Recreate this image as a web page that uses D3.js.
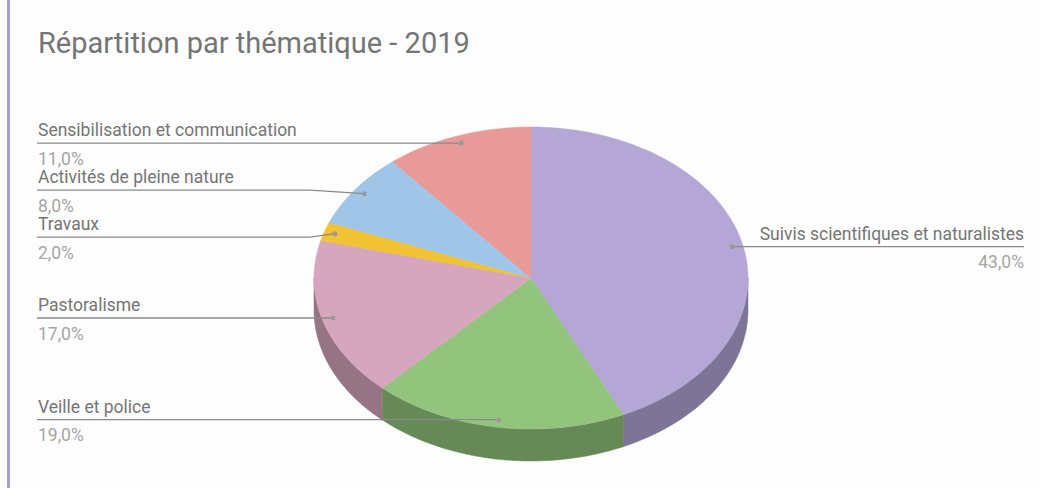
<!DOCTYPE html>
<html>
<head>
<meta charset="utf-8">
<script src="https://cdn.jsdelivr.net/npm/d3@7"></script>
<style>
  body { margin: 0; background: #fdfdfd; }
  svg { display: block; font-family: Roboto, sans-serif; }
</style>
</head>
<body>
<div id="chart"></div>
<script>
// Data
const categories = ['Suivis scientifiques et naturalistes', 'Veille et police', 'Pastoralisme', 'Travaux', 'Activités de pleine nature', 'Sensibilisation et communication'];
const values = [43, 19, 17, 2, 8, 11];
const colors = ['#b4a7d6', '#93c47d', '#d5a6bd', '#f1c232', '#9fc5e8', '#ea9999'];
const title = 'Répartition par thématique - 2019';

const width = 1041, height = 488;

// Pie geometry (3D tilted ellipse)
const cx = 531, cy = 278, rx = 217, ry = 151, depth = 32;

const svg = d3.select('#chart')
    .append('svg')
    .attr('width', width)
    .attr('height', height);

svg.append('rect')
    .attr('width', width).attr('height', height)
    .attr('fill', '#fdfdfd');

// left accent bar
svg.append('rect')
    .attr('x', 7).attr('y', 0)
    .attr('width', 3).attr('height', height)
    .attr('fill', '#a99ed4');

svg.append('text')
    .attr('x', 38).attr('y', 53)
    .style('font-size', '29px')
    .style('fill', '#757575')
    .text(title);

const data = categories.map((c, i) => ({ name: c, value: values[i], color: colors[i] }));
const arcs = d3.pie().sort(null).value(d => d.value)(data);
const total = d3.sum(values);

// point on the ellipse for an angle (clockwise from top)
const pt = (a, f = 1, dy = 0) => [cx + rx * f * Math.sin(a), cy - ry * f * Math.cos(a) + dy];

function arcPoints(a0, a1, dy) {
    const n = Math.max(2, Math.ceil((a1 - a0) / 0.02));
    return d3.range(n + 1).map(i => pt(a0 + (a1 - a0) * i / n, 1, dy));
}

const line = d3.line();

// Side walls (front half only)
const sides = svg.append('g');
arcs.forEach(d => {
    const a0 = Math.max(d.startAngle, Math.PI / 2);
    const a1 = Math.min(d.endAngle, Math.PI * 3 / 2);
    if (a1 <= a0) return;
    const top = arcPoints(a0, a1, 0);
    const bottom = arcPoints(a0, a1, depth).reverse();
    const c = d3.color(d.data.color).darker(1.0);
    sides.append('path')
        .attr('d', line(top.concat(bottom)) + 'Z')
        .attr('fill', c)
        .attr('stroke', c)
        .attr('stroke-width', 0.5);
});

// Top faces
const tops = svg.append('g');
arcs.forEach(d => {
    const pts = [[cx, cy]].concat(arcPoints(d.startAngle, d.endAngle, 0));
    tops.append('path')
        .attr('d', line(pts) + 'Z')
        .attr('fill', d.data.color)
        .attr('stroke', d.data.color)
        .attr('stroke-width', 0.5);
});

// Labels
const fmt = v => d3.format('.1f')(v).replace('.', ',') + '%';
const labels = arcs.map(d => {
    const mid = (d.startAngle + d.endAngle) / 2;
    const dot = pt(mid, 0.95);
    return { d, dot, right: Math.sin(mid) > 0, y: dot[1] };
});

// Resolve overlaps on each side: group and centre on mean desired position
const spacing = 47;
[true, false].forEach(side => {
    const ls = labels.filter(l => l.right === side).sort((a, b) => a.y - b.y);
    const groups = ls.map(l => ({ items: [l], desired: [l.y] }));
    const place = g => {
        const mean = d3.mean(g.desired.map((v, i) => v - i * spacing));
        g.items.forEach((l, i) => l.ly = mean + i * spacing);
    };
    groups.forEach(place);
    let changed = true;
    while (changed) {
        changed = false;
        for (let i = 0; i < groups.length - 1; i++) {
            const a = groups[i], b = groups[i + 1];
            if (a.items[a.items.length - 1].ly + spacing > b.items[0].ly) {
                a.items = a.items.concat(b.items);
                a.desired = a.desired.concat(b.desired);
                groups.splice(i + 1, 1);
                place(a);
                changed = true;
                break;
            }
        }
    }
});

const lab = svg.append('g');
labels.forEach(l => {
    const y = l.ly;
    let pts;
    if (l.right) {
        pts = [l.dot, [1024, y]];
    } else {
        const bend = Math.max(310, l.dot[0] - 100);
        pts = [[37, y], [bend, y], l.dot];
    }
    lab.append('path')
        .attr('d', line(pts))
        .attr('fill', 'none')
        .attr('stroke', '#8a8a8a')
        .attr('stroke-width', 1.3);
    lab.append('circle')
        .attr('cx', l.dot[0]).attr('cy', l.dot[1])
        .attr('r', 2.5)
        .attr('fill', '#9a9a9a');
    const tx = l.right ? 1024 : 38;
    const anchor = l.right ? 'end' : 'start';
    lab.append('text')
        .attr('x', tx).attr('y', y - 7)
        .attr('text-anchor', anchor)
        .style('font-size', '17.5px')
        .style('fill', '#757575')
        .text(l.d.data.name);
    lab.append('text')
        .attr('x', tx).attr('y', y + 21.5)
        .attr('text-anchor', anchor)
        .style('font-size', '17.5px')
        .style('fill', '#a5a5a5')
        .text(fmt(l.d.data.value / total * 100));
});
</script>
</body>
</html>
